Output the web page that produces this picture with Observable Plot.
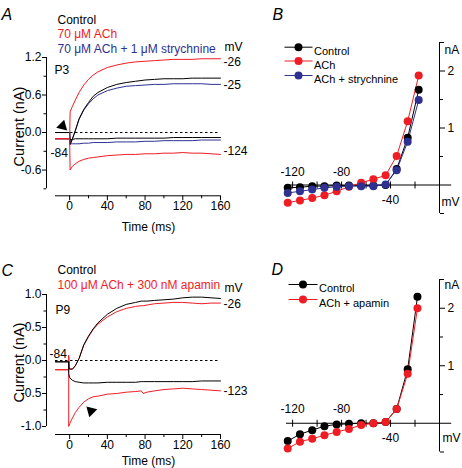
<!DOCTYPE html>
<html><head><meta charset="utf-8">
<script src="https://cdn.jsdelivr.net/npm/d3@7"></script>
<script src="https://cdn.jsdelivr.net/npm/@observablehq/plot@0.6"></script>
<style>
html,body{margin:0;padding:0;background:#fff;}
#fig{position:relative;width:462px;height:468px;overflow:hidden;}
#fig svg{position:absolute;left:0;top:0;background:transparent;}
</style></head><body><div id="fig"></div>
<script>
// ---------------- DATA ----------------
// Panel A (P3): time (ms) after step; currents (nA)
const preA = [-15, 0];
const aBaseCtrl = 0.0, aBaseAch = -0.1, aBaseStr = -0.1;
const tA = [0.5, 3, 6, 10, 15, 20, 25, 30, 40, 50, 60, 70, 80, 90, 100, 110, 120, 130, 140, 150, 160];
const aCtrlDep = [-0.19, -0.10, 0.03, 0.22, 0.37, 0.48, 0.58, 0.64, 0.72, 0.77, 0.80, 0.82, 0.84, 0.85, 0.86, 0.86, 0.86, 0.87, 0.87, 0.87, 0.87];
const aCtrlHyp = [-0.12, -0.11, -0.10, -0.10, -0.10, -0.10, -0.10, -0.10, -0.10, -0.09, -0.09, -0.09, -0.09, -0.09, -0.09, -0.08, -0.08, -0.08, -0.08, -0.08, -0.08];
const aAchDep = [0.33, 0.42, 0.52, 0.64, 0.76, 0.85, 0.92, 0.97, 1.04, 1.08, 1.11, 1.13, 1.14, 1.15, 1.16, 1.17, 1.17, 1.17, 1.18, 1.18, 1.18];
const aAchHyp = [-0.60, -0.54, -0.50, -0.46, -0.43, -0.41, -0.40, -0.39, -0.37, -0.36, -0.35, -0.35, -0.34, -0.34, -0.33, -0.33, -0.32, -0.33, -0.33, -0.34, -0.35];
const aStrDep = [-0.19, -0.10, 0.03, 0.21, 0.36, 0.46, 0.54, 0.60, 0.67, 0.71, 0.74, 0.75, 0.76, 0.77, 0.77, 0.78, 0.78, 0.78, 0.78, 0.77, 0.77];
const aStrHyp = [-0.18, -0.18, -0.18, -0.18, -0.17, -0.17, -0.16, -0.16, -0.16, -0.15, -0.15, -0.15, -0.14, -0.14, -0.13, -0.13, -0.13, -0.13, -0.12, -0.12, -0.12];

// Panel B: I-V (mV, nA)
const vB = [-124, -114, -104, -94, -84, -74, -64, -54, -44, -35, -26, -17];
const bCtrl = [-0.05, -0.04, -0.02, -0.02, -0.01, -0.01, -0.01, -0.01, 0.00, 0.28, 0.83, 1.67];
const bAch = [-0.31, -0.27, -0.23, -0.18, -0.11, -0.03, 0.04, 0.10, 0.17, 0.51, 1.12, 1.92];
const bStr = [-0.14, -0.11, -0.08, -0.05, -0.03, -0.02, -0.02, -0.02, 0.01, 0.26, 0.76, 1.49];

// Panel C (P9)
const preC = [-15, -1];
const cBaseCtrl = -0.02, cBaseApa = -0.14;
const tC = [-1, 0, 3, 6, 10, 15, 20, 25, 30, 40, 50, 60, 70, 76, 78, 82, 90, 100, 110, 120, 130, 140, 150, 160];
const cCtrlDep = [-0.10, -0.13, -0.13, -0.08, 0.03, 0.24, 0.37, 0.48, 0.57, 0.70, 0.79, 0.85, 0.88, 0.90, 0.90, 0.90, 0.91, 0.92, 0.93, 0.95, 0.96, 0.96, 0.95, 0.94];
const cCtrlHyp = [-0.20, -0.26, -0.30, -0.32, -0.33, -0.34, -0.34, -0.34, -0.34, -0.33, -0.33, -0.33, -0.33, -0.32, -0.32, -0.32, -0.32, -0.32, -0.32, -0.32, -0.32, -0.31, -0.31, -0.31];
const cApaDep = [0.08, -0.13, -0.13, -0.08, 0.03, 0.23, 0.36, 0.47, 0.55, 0.66, 0.74, 0.79, 0.82, 0.83, 0.83, 0.84, 0.86, 0.87, 0.88, 0.88, 0.87, 0.86, 0.87, 0.87];
const cApaHyp = [-1.00, -0.96, -0.87, -0.79, -0.71, -0.63, -0.58, -0.55, -0.54, -0.51, -0.50, -0.48, -0.47, -0.46, -0.50, -0.48, -0.46, -0.44, -0.43, -0.42, -0.43, -0.44, -0.45, -0.46];

// Panel D: I-V
const vD = [-124, -114, -104, -94, -84, -74, -64, -54, -44, -35, -26, -18];
const dCtrl = [-0.31, -0.19, -0.12, -0.05, -0.02, -0.01, 0.00, 0.00, 0.02, 0.25, 0.94, 2.20];
const dApa = [-0.44, -0.32, -0.27, -0.21, -0.15, -0.10, -0.03, 0.00, 0.02, 0.25, 0.86, 2.00];

// ticks
const traceXMajor = [0, 40, 80, 120, 160];
const traceXMinor = [20, 60, 100, 140];
const aYMajor = [-0.6, 0, 0.6, 1.2];
const aYMinor = [-0.9, -0.3, 0.3, 0.9];
const cYMajor = [-1, -0.5, 0, 0.5, 1];
const cYMinor = [-0.75, -0.25, 0.25, 0.75];
const ivXTicks = [-120, -100, -80, -60, -40, -20];
const ivXLabelsAbove = [-120, -80];
const ivXLabelsBelow = [-40];
const ivYMajor = [1, 2];
const ivYMinor = [0.5, 1.5];
const ivYEnds = [-0.5, 2.5];

// ---------------- STYLE ----------------
const FONT = "'Liberation Sans', Arial, Helvetica, sans-serif";
const RED = "#f01c24", BLUE = "#2e3192", BLACK = "#000";
const W = 462, H = 468;
const noText = () => "";

const vtick = {draw(ctx, size) { const r = Math.sqrt(size / Math.PI); ctx.moveTo(0, -r); ctx.lineTo(0, r); }};
const hbar = {draw(ctx, size) { const r = Math.sqrt(size / Math.PI); ctx.moveTo(-r, 0); ctx.lineTo(r, 0); }};

function sweep(pre, base, ts, vs, id) {
  return [...pre.map(t => ({t, v: base, id})), ...ts.map((t, i) => ({t, v: vs[i], id}))];
}
function txt(P, s, X, Y, o = {}) {
  return Plot.text([s], {text: d => d, frameAnchor: "top-left", dx: X - P.ml, dy: Y - P.mt,
    textAnchor: "start", fontSize: 12, fill: BLACK, ...o});
}
function legendRow(P, X0, X1, Y, color, label, fs) {
  const cx = (X0 + X1) / 2;
  return [
    Plot.dot([0], {frameAnchor: "top-left", dx: cx - P.ml, dy: Y - P.mt, symbol: hbar, r: (X1 - X0) / 2, stroke: color, strokeWidth: 1, fill: "none"}),
    Plot.dot([0], {frameAnchor: "top-left", dx: cx - P.ml, dy: Y - P.mt, r: 4, fill: color, stroke: "none"}),
    txt(P, label, X1 + 1.5, Y, {fontSize: fs})
  ];
}
function mount(svg) { document.getElementById("fig").appendChild(svg); }

// ---------------- PANEL A ----------------
{
  const P = {ml: 46, mr: W - 220, mt: 57, mb: H - 195.3};
  const blue = [...sweep(preA, aBaseStr, tA, aStrDep, "d"), ...sweep(preA, aBaseStr, tA, aStrHyp, "h")];
  const black = [...sweep(preA, aBaseCtrl, tA, aCtrlDep, "d"), ...sweep(preA, aBaseCtrl, tA, aCtrlHyp, "h")];
  const red = [...sweep(preA, aBaseAch, tA, aAchDep, "d"), ...sweep(preA, aBaseAch, tA, aAchHyp, "h")];
  mount(Plot.plot({
    width: W, height: H, marginLeft: P.ml, marginRight: P.mr, marginTop: P.mt, marginBottom: P.mb,
    style: {fontFamily: FONT, background: "transparent", overflow: "visible"},
    x: {domain: [-15, 160], insetLeft: 9, label: null},
    y: {domain: [-0.9, 1.2], insetBottom: 7, label: null},
    marks: [
      Plot.ruleY([0], {x1: -15, x2: 160, stroke: BLACK, strokeDasharray: "2.5,2.5"}),
      Plot.line(blue, {x: "t", y: "v", z: "id", stroke: BLUE, strokeWidth: 1}),
      Plot.line(black, {x: "t", y: "v", z: "id", stroke: BLACK, strokeWidth: 1}),
      Plot.line(red, {x: "t", y: "v", z: "id", stroke: RED, strokeWidth: 1}),
      Plot.ruleX([-15], {y1: -0.9, y2: 1.2, dx: -9, stroke: BLACK}),
      Plot.ruleY([-0.9], {x1: -15, x2: 160, dy: 7, stroke: BLACK}),
      Plot.axisY({ticks: aYMajor, tickSize: 4, tickPadding: 1, tickFormat: d => d.toFixed(1), fontSize: 12, label: null}),
      Plot.axisY({ticks: aYMinor, tickSize: 2.5, tickFormat: noText, label: null}),
      Plot.axisX({ticks: traceXMajor, tickSize: 5, tickPadding: 1, tickFormat: d => String(d), fontSize: 12, label: null}),
      Plot.axisX({ticks: traceXMinor, tickSize: 3, tickFormat: noText, label: null}),
      txt(P, "A", 1, 8, {fontSize: 16, fontStyle: "italic"}),
      txt(P, "Control", 57, 14.5, {fontSize: 12}),
      txt(P, "70 μM ACh", 57, 29, {fontSize: 12, fill: RED}),
      txt(P, "70 μM ACh + 1 μM strychnine", 57, 43.5, {fontSize: 12, fill: BLUE}),
      txt(P, "P3", 54, 65),
      txt(P, "-84", 50, 148),
      txt(P, "mV", 224, 42),
      txt(P, "-26", 223, 57),
      txt(P, "-25", 223, 80),
      txt(P, "-124", 223, 146),
      txt(P, "Current (nA)", 13, 126, {fontSize: 14.5, rotate: -90, textAnchor: "middle"}),
      txt(P, "Time (ms)", 148, 221.5, {fontSize: 12, textAnchor: "middle"}),
      Plot.dot([0], {frameAnchor: "top-left", dx: 62 - P.ml, dy: 125.5 - P.mt, symbol: "triangle", r: 4.2, fill: BLACK, rotate: 135})
    ]
  }));
}

// ---------------- PANEL B ----------------
{
  const P = {ml: 286, mr: W - 439, mt: 42, mb: H - 213};
  const rows = (vs, is) => vs.map((v, i) => ({v, i: is[i]}));
  const ctrl = rows(vB, bCtrl), ach = rows(vB, bAch), str = rows(vB, bStr);
  mount(Plot.plot({
    width: W, height: H, marginLeft: P.ml, marginRight: P.mr, marginTop: P.mt, marginBottom: P.mb,
    style: {fontFamily: FONT, background: "transparent", overflow: "visible"},
    x: {domain: [-125, 0], label: null, axis: null},
    y: {domain: [-0.5, 2.5], label: null},
    marks: [
      Plot.ruleY([0], {x1: -125, x2: 10, stroke: BLACK}),
      Plot.ruleX([0], {y1: -0.5, y2: 2.5, stroke: BLACK}),
      Plot.dot(ivXTicks, {x: d => d, y: () => 0, symbol: vtick, r: 3.5, stroke: BLACK, fill: "none", strokeWidth: 1}),
      Plot.text(ivXLabelsAbove, {x: d => d, y: () => 0, dy: -13, text: d => String(d), fontSize: 12}),
      Plot.text(ivXLabelsBelow, {x: d => d, y: () => 0, dy: 15.5, text: d => String(d), fontSize: 12}),
      Plot.axisY({anchor: "right", ticks: ivYMajor, tickSize: 5, tickPadding: 3, tickFormat: d => String(d), fontSize: 12, label: null}),
      Plot.axisY({anchor: "right", ticks: ivYMinor, tickSize: 3, tickFormat: noText, label: null}),
      Plot.axisY({anchor: "right", ticks: ivYEnds, tickSize: 4, tickFormat: noText, label: null}),
      Plot.line(ctrl, {x: "v", y: "i", stroke: BLACK, strokeWidth: 1}),
      Plot.line(ach, {x: "v", y: "i", stroke: RED, strokeWidth: 1}),
      Plot.line(str, {x: "v", y: "i", stroke: BLUE, strokeWidth: 1}),
      Plot.dot(ctrl, {x: "v", y: "i", r: 4, fill: BLACK}),
      Plot.dot(ach, {x: "v", y: "i", r: 4, fill: RED}),
      Plot.dot(str, {x: "v", y: "i", r: 4, fill: BLUE}),
      txt(P, "B", 272, 8, {fontSize: 16, fontStyle: "italic"}),
      ...legendRow(P, 284, 312, 46.7, BLACK, "Control", 11),
      ...legendRow(P, 284, 312, 60.5, RED, "ACh", 11),
      ...legendRow(P, 284, 312, 75, BLUE, "ACh + strychnine", 11),
      txt(P, "nA", 444, 44.5),
      txt(P, "mV", 441, 196.5)
    ]
  }));
}

// ---------------- PANEL C ----------------
{
  const P = {ml: 46, mr: W - 220, mt: 294, mb: H - 434};
  const black = [...sweep(preC, cBaseCtrl, tC, cCtrlDep, "d"), ...sweep(preC, cBaseCtrl, tC, cCtrlHyp, "h")];
  const red = [...sweep(preC, cBaseApa, tC, cApaDep, "d"), ...sweep(preC, cBaseApa, tC, cApaHyp, "h")];
  mount(Plot.plot({
    width: W, height: H, marginLeft: P.ml, marginRight: P.mr, marginTop: P.mt, marginBottom: P.mb,
    style: {fontFamily: FONT, background: "transparent", overflow: "visible"},
    x: {domain: [-15, 160], insetLeft: 9, label: null},
    y: {domain: [-1, 1], insetBottom: 8, label: null},
    marks: [
      Plot.ruleY([0], {x1: -15, x2: 160, stroke: BLACK, strokeDasharray: "2.5,2.5"}),
      Plot.line(red, {x: "t", y: "v", z: "id", stroke: RED, strokeWidth: 1}),
      Plot.line(black, {x: "t", y: "v", z: "id", stroke: BLACK, strokeWidth: 1}),
      Plot.ruleX([-15], {y1: -1, y2: 1, dx: -9, stroke: BLACK}),
      Plot.ruleY([-1], {x1: -15, x2: 160, dy: 8, stroke: BLACK}),
      Plot.axisY({ticks: cYMajor, tickSize: 4, tickPadding: 1, tickFormat: d => d.toFixed(1), fontSize: 12, label: null}),
      Plot.axisY({ticks: cYMinor, tickSize: 2.5, tickFormat: noText, label: null}),
      Plot.axisX({ticks: traceXMajor, tickSize: 5, tickPadding: 1, tickFormat: d => String(d), fontSize: 12, label: null}),
      Plot.axisX({ticks: traceXMinor, tickSize: 3, tickFormat: noText, label: null}),
      txt(P, "C", 1, 264, {fontSize: 16, fontStyle: "italic"}),
      txt(P, "Control", 57, 264.5, {fontSize: 12}),
      txt(P, "100 μM ACh + 300 nM apamin", 57, 280, {fontSize: 12, fill: RED}),
      txt(P, "P9", 55, 305),
      txt(P, "-84", 49, 349),
      txt(P, "mV", 224, 283),
      txt(P, "-26", 223, 299),
      txt(P, "-123", 223, 386),
      txt(P, "Current (nA)", 13, 362, {fontSize: 14.5, rotate: -90, textAnchor: "middle"}),
      txt(P, "Time (ms)", 148, 455.5, {fontSize: 12, textAnchor: "middle"}),
      Plot.dot([0], {frameAnchor: "top-left", dx: 90.5 - P.ml, dy: 410.5 - P.mt, symbol: "triangle", r: 4.2, fill: BLACK, rotate: -45})
    ]
  }));
}

// ---------------- PANEL D ----------------
{
  const P = {ml: 286, mr: W - 439, mt: 279, mb: H - 451.5};
  const rows = (vs, is) => vs.map((v, i) => ({v, i: is[i]}));
  const ctrl = rows(vD, dCtrl), apa = rows(vD, dApa);
  mount(Plot.plot({
    width: W, height: H, marginLeft: P.ml, marginRight: P.mr, marginTop: P.mt, marginBottom: P.mb,
    style: {fontFamily: FONT, background: "transparent", overflow: "visible"},
    x: {domain: [-125, 0], label: null, axis: null},
    y: {domain: [-0.5, 2.5], label: null},
    marks: [
      Plot.ruleY([0], {x1: -125, x2: 10, stroke: BLACK}),
      Plot.ruleX([0], {y1: -0.5, y2: 2.5, stroke: BLACK}),
      Plot.dot(ivXTicks, {x: d => d, y: () => 0, symbol: vtick, r: 3.5, stroke: BLACK, fill: "none", strokeWidth: 1}),
      Plot.text(ivXLabelsAbove, {x: d => d, y: () => 0, dy: -14, text: d => String(d), fontSize: 12}),
      Plot.text(ivXLabelsBelow, {x: d => d, y: () => 0, dy: 14.5, text: d => String(d), fontSize: 12}),
      Plot.axisY({anchor: "right", ticks: ivYMajor, tickSize: 5, tickPadding: 3, tickFormat: d => String(d), fontSize: 12, label: null}),
      Plot.axisY({anchor: "right", ticks: ivYMinor, tickSize: 3, tickFormat: noText, label: null}),
      Plot.axisY({anchor: "right", ticks: ivYEnds, tickSize: 4, tickFormat: noText, label: null}),
      Plot.line(ctrl, {x: "v", y: "i", stroke: BLACK, strokeWidth: 1}),
      Plot.line(apa, {x: "v", y: "i", stroke: RED, strokeWidth: 1}),
      Plot.dot(ctrl, {x: "v", y: "i", r: 4, fill: BLACK}),
      Plot.dot(apa, {x: "v", y: "i", r: 4, fill: RED}),
      txt(P, "D", 271, 263, {fontSize: 16, fontStyle: "italic"}),
      ...legendRow(P, 288, 317, 284, BLACK, "Control", 11),
      ...legendRow(P, 288, 317, 299, RED, "ACh + apamin", 11),
      txt(P, "nA", 444, 280),
      txt(P, "mV", 442, 433)
    ]
  }));
}
</script></body></html>
